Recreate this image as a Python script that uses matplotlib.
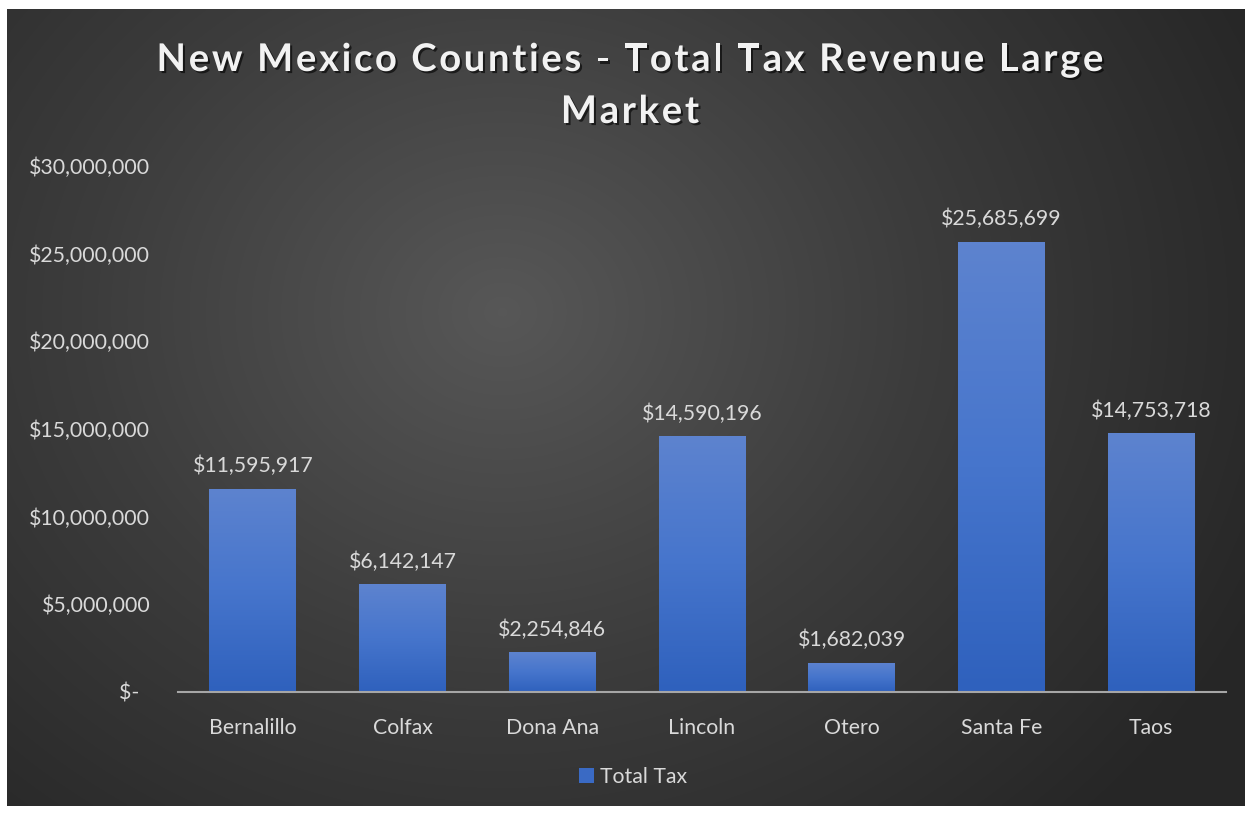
import numpy as np
import matplotlib
matplotlib.use("Agg")
import matplotlib.pyplot as plt
import matplotlib.patheffects as pe
from matplotlib.colors import LinearSegmentedColormap
from matplotlib.ticker import FuncFormatter
from matplotlib.patches import Patch

categories = ["Bernalillo", "Colfax", "Dona Ana", "Lincoln", "Otero", "Santa Fe", "Taos"]
total_tax = [11595917, 6142147, 2254846, 14590196, 1682039, 25685699, 14753718]
y_ticks = [0, 5000000, 10000000, 15000000, 20000000, 25000000, 30000000]
title_lines = ["New Mexico Counties - Total Tax Revenue Large", "Market"]
series_name = "Total Tax"

FONT = ["Lato", "DejaVu Sans"]
plt.rcParams['font.family'] = FONT
LBL = "#d9d9d9"
FS = 15.3

W, H = 1252, 814
fig = plt.figure(figsize=(W / 100, H / 100), dpi=100)
fig.patch.set_facecolor("white")

# background panel with radial gradient
bx0, by0, bx1, by1 = 7, 9, 1245, 806
bg = fig.add_axes([bx0 / W, 1 - by1 / H, (bx1 - bx0) / W, (by1 - by0) / H])
bg.set_axis_off()
nx, ny = 400, 260
xx, yy = np.meshgrid(np.linspace(0, 1, nx), np.linspace(0, 1, ny))
cx, cy = 0.40, 0.38
r = np.sqrt(((xx - cx) * 1.0) ** 2 + ((yy - cy) * 0.75) ** 2)
r = np.clip(r / 0.68, 0, 1)
cmap_bg = LinearSegmentedColormap.from_list("bg", ["#575757", "#3c3c3c", "#262626"])
bg.imshow(r, cmap=cmap_bg, aspect="auto", extent=[0, 1, 1, 0], interpolation="bilinear")
bg.set_xlim(0, 1)
bg.set_ylim(1, 0)

# main axes
ax_l, ax_r = 178, 1226
ax_top, ax_bot = 166, 692
ax = fig.add_axes([ax_l / W, 1 - ax_bot / H, (ax_r - ax_l) / W, (ax_bot - ax_top) / H])
ax.set_facecolor("none")
n = len(categories)

cmap_bar = LinearSegmentedColormap.from_list("bar", ["#2f61bd", "#4675cc", "#5d83cf"])
grad = np.linspace(0, 1, 100).reshape(-1, 1)
bw = 0.58
bars = ax.bar(range(n), total_tax, width=bw, color="none", edgecolor="none", zorder=2)
for b, v in zip(bars, total_tax):
    x0 = b.get_x()
    im = ax.imshow(grad, cmap=cmap_bar, aspect="auto", origin="lower",
                   extent=[x0, x0 + bw, 0, v], zorder=3, interpolation="bilinear")
    im.set_clip_path(b)
    ax.text(b.get_x() + bw / 2, v + 700000, "${:,.0f}".format(v), ha="center", va="bottom",
            color=LBL, fontsize=FS, zorder=4)

ax.set_aspect("auto")
ax.set_xlim(-0.5, n - 0.5)
ax.set_ylim(0, 30000000)

for s in ["top", "right", "left"]:
    ax.spines[s].set_visible(False)
ax.spines["bottom"].set_color("#a6a6a6")
ax.spines["bottom"].set_linewidth(1.5)
ax.spines["bottom"].set_zorder(5)

ax.set_yticks(y_ticks)
ax.yaxis.set_major_formatter(FuncFormatter(lambda v, p: "$-  " if v == 0 else "${:,.0f}".format(v)))
ax.set_xticks(range(n))
ax.set_xticklabels(categories)
ax.tick_params(axis="y", length=0, pad=20, labelcolor=LBL, labelsize=FS)
ax.tick_params(axis="x", length=0, pad=19, labelcolor=LBL, labelsize=FS)

# title with letter spacing
fig.canvas.draw()
renderer = fig.canvas.get_renderer()
spacing = 2.6
tfs = 27.5
shadow = [pe.withSimplePatchShadow(offset=(1.5, -1.5), shadow_rgbFace="black", alpha=0.6)]
for line, yc in zip(title_lines, [57, 109]):
    widths = []
    for ch in line:
        t = fig.text(0, 0, ch if ch != " " else "a a", fontsize=tfs, fontweight="bold")
        w = t.get_window_extent(renderer).width
        if ch == " ":
            t2 = fig.text(0, 0, "aa", fontsize=tfs, fontweight="bold")
            w = w - t2.get_window_extent(renderer).width
            t2.remove()
        t.remove()
        widths.append(w)
    total = sum(widths) + spacing * (len(line) - 1)
    x = 630 - total / 2
    for ch, w in zip(line, widths):
        if ch != " ":
            fig.text(x / W, 1 - yc / H, ch, ha="left", va="center_baseline", fontsize=tfs,
                     fontweight="bold", color="#f2f2f2", path_effects=shadow)
        x += w + spacing

# legend
leg = fig.legend(handles=[Patch(facecolor="#3a6ac4", edgecolor="none", label=series_name)],
                 loc="center", bbox_to_anchor=(633 / W, 1 - 777 / H), frameon=False,
                 fontsize=FS, handlelength=0.7, handleheight=0.7, handletextpad=0.3)
for t in leg.get_texts():
    t.set_color(LBL)

fig.savefig("out.png", dpi=100)
